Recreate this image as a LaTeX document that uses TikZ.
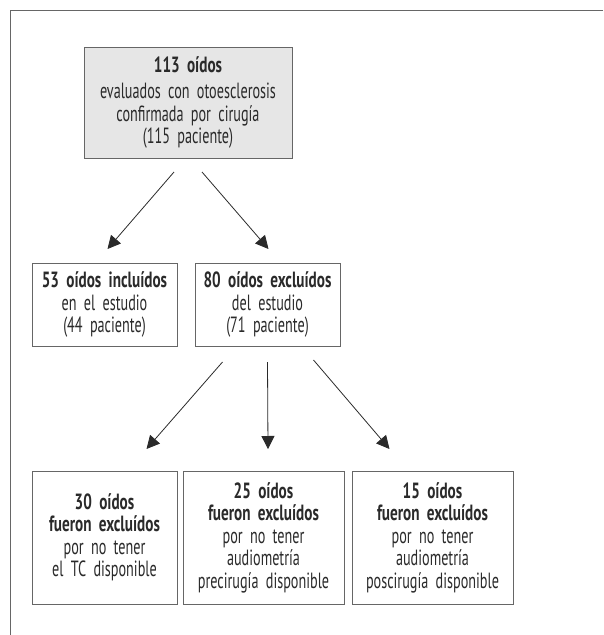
\documentclass[tikz,border=0pt]{standalone}
\usepackage{fontspec}
\setmainfont{PT Sans}[FakeStretch=0.645, WordSpace=0.7, BoldFeatures={FakeStretch=0.69}]
\usepackage{tikz}
\usetikzlibrary{arrows.meta,positioning}

\definecolor{txtgray}{HTML}{2A2A2A}
\definecolor{boxgray}{HTML}{666666}
\definecolor{fillgray}{HTML}{E6E6E6}

\tikzset{
    flowbox/.style={draw=boxgray, line width=0.9pt, text=txtgray, align=center,
        inner sep=0pt, outer sep=0pt, minimum height=83pt, text width=#1, minimum width=#1,
        font=\fontsize{22}{22.5}\selectfont},
    flowbox/.default=145pt,
    flowarrow/.style={draw=txtgray, line width=0.8pt,
        -{Triangle[width=13pt, length=13pt]}}
}

\begin{document}
\begin{tikzpicture}[x=1pt, y=-1pt]

    \useasboundingbox (0,0) rectangle (603,635);

    % frame
    \draw[boxgray, line width=0.9pt] (603,10) -- (10,10) -- (10,635);

    \node[flowbox=208pt, fill=fillgray, minimum height=111pt] (total) at (188,102.5)
    {\textbf{113 oídos}\\[4pt]evaluados con otoesclerosis\\confirmada por cirugía\\(115 paciente)\\[4pt]};

    \node[flowbox] (incl) at (104.5,304.5)
    {\textbf{53 oídos incluídos}\\en el estudio\\(44 paciente)};

    \node[flowbox, right=18pt of incl] (excl)
    {\textbf{80 oídos excluídos}\\del estudio\\(71 paciente)};

    \node[flowbox, minimum height=133pt] (noTC) at (104.5,537.5)
    {\textbf{30 oídos}\\\textbf{fueron excluídos}\\por no tener\\el TC disponible\\[6pt]};

    \node[flowbox=161pt, minimum height=133pt, right=6pt of noTC] (noPre)
    {\textbf{25 oídos}\\\textbf{fueron excluídos}\\por no tener\\audiometría\\precirugía disponible};

    \node[flowbox=161pt, minimum height=133pt, right=8pt of noPre] (noPos)
    {\textbf{15 oídos}\\\textbf{fueron excluídos}\\por no tener\\audiometría\\poscirugía disponible};

    \draw[flowarrow] ([xshift=-14pt, yshift=-14pt]total.south) -- ([xshift=3pt, yshift=14pt]incl.north);
    \draw[flowarrow] ([xshift=14pt, yshift=-14pt]total.south) -- ([xshift=1pt, yshift=14pt]excl.north);

    \draw[flowarrow] ([xshift=-45pt, yshift=-16pt]excl.south) -- ([xshift=42pt, yshift=22pt]noTC.north);
    \draw[flowarrow] ([yshift=-16pt]excl.south) -- ([xshift=4.5pt, yshift=22pt]noPre.north);
    \draw[flowarrow] ([xshift=46pt, yshift=-14pt]excl.south) -- ([xshift=-43pt, yshift=22pt]noPos.north);

\end{tikzpicture}
\end{document}
